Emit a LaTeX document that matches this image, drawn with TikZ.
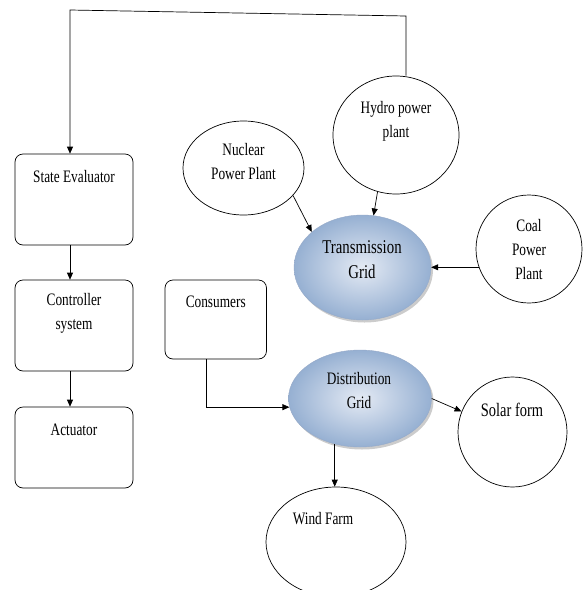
\documentclass[tikz,border=0pt]{standalone}
\usepackage{fontspec}
\setmainfont[FakeStretch=0.76]{Liberation Serif}
\usetikzlibrary{shapes.geometric,arrows.meta,shadows}

\definecolor{gridlight}{RGB}{228,234,244}
\definecolor{griddark}{RGB}{150,176,210}
\definecolor{gridline}{RGB}{150,170,200}

\begin{document}
\begin{tikzpicture}[x=1pt,y=-1pt,
    font=\fontsize{17.5}{24}\selectfont,
    line width=0.7pt,
    >={Triangle[length=7pt,width=6pt]},
    unitbox/.style={draw, rounded corners=8pt, inner sep=0pt},
    plantnode/.style={draw, ellipse, inner sep=0pt},
    gridnode/.style={ellipse, inner sep=0pt, draw=gridline, line width=0.4pt,
      inner color=gridlight, outer color=griddark,
      drop shadow={shadow xshift=2pt, shadow yshift=-2.5pt, opacity=0.4}},
    txt/.style={align=center, inner sep=0pt}]
      \pgfmathsetmacro{\fbx}{70};
      \pgfmathsetmacro{\fby}{10};

      \useasboundingbox (0,0) rectangle (583,590);

      % control side
      \node[unitbox, minimum width=118pt, minimum height=91pt] (se) at (74,199.5) {};
      \node[unitbox, minimum width=118pt, minimum height=91pt] (ctrl) at (74,325.5) {};
      \node[unitbox, minimum width=118pt, minimum height=81pt] (act) at (74,447.5) {};
      \node[unitbox, minimum width=101.5pt, minimum height=79pt] (cons) at (215.75,319.5) {};

      \node[txt] (se-t) at ([yshift=-23pt]se.north) {State Evaluator};
      \node[txt] (ctrl-t) at ([yshift=-34pt]ctrl.north) {Controller\\system};
      \node[txt] (act-t) at ([yshift=-23pt]act.north) {Actuator};
      \node[txt] (cons-t) at ([yshift=-22pt]cons.north) {Consumers};

      % plants and grids
      \node[plantnode, minimum width=121pt, minimum height=94pt] (nuc) at (243.5,168) {};
      \node[plantnode, minimum width=126pt, minimum height=118pt] (hydro) at (396,135) {};
      \node[plantnode, minimum width=106pt, minimum height=108pt] (coal) at (529,249) {};
      \node[gridnode, minimum width=137pt, minimum height=105pt] (trans) at (362.5,267.5) {};
      \node[gridnode, minimum width=143pt, minimum height=97pt] (dist) at (360,398.5) {};
      \node[plantnode, minimum width=109pt, minimum height=110pt] (solar) at (512.5,432) {};
      \node[plantnode, minimum width=140pt, minimum height=110pt] (wind) at (336,542) {};

      \node[txt] (nuc-t) at (243.5,161.5) {Nuclear\\Power Plant};
      \node[txt] (hydro-t) at (396,121.5) {Hydro power\\plant};
      \node[txt] (coal-t) at (529,250) {Coal\\Power\\Plant};
      \node[txt, font=\fontsize{19.5}{25}\selectfont] (trans-t) at (362,259.5) {Transmission\\Grid};
      \node[txt] (dist-t) at (359,391) {Distribution\\Grid};
      \node[txt, font=\fontsize{19}{24}\selectfont] (solar-t) at (512,410) {Solar form};
      \node[txt] (wind-t) at (323,519) {Wind Farm};

      % feedback loop
      \coordinate (tr) at (406,16);
      \coordinate (tl) at (\fbx,\fby);
      \draw[->] (hydro.north -| tr) -- (tr) -- (tl) -- (tl |- se.north);
      \draw[->] (tl |- se.south) -- (tl |- ctrl.north);
      \draw[->] (tl |- ctrl.south) -- (tl |- act.north);

      \draw[->] (nuc.-29) -- (trans.145);
      \draw[->] (hydro.252) -- (trans.78);
      \draw[->] (coal.200) -- (coal.200 -| trans.east);

      \draw[->] ([xshift=-9pt]cons.south) |- (dist.187);
      \draw[->] (dist.east) -- (solar.158);
      \draw[->] (dist.241) -- (dist.241 |- wind.north);

      % \draw[help lines] (0,0) grid[step=50] (583,590);
    \end{tikzpicture}
\end{document}
